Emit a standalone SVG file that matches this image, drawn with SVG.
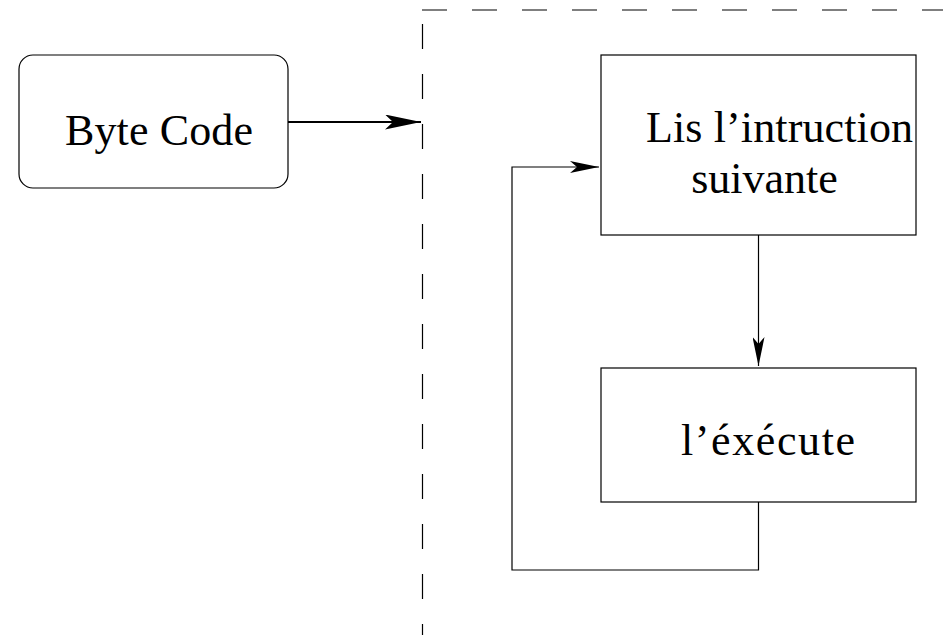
<svg xmlns="http://www.w3.org/2000/svg" width="943" height="635" viewBox="0 0 943 635">
<style>
.box{fill:#fff;stroke:#000;stroke-width:1.2}
.lbl{font-family:"Liberation Serif","Times New Roman",serif;font-size:44px;fill:#000}
.conn{fill:none;stroke:#000;stroke-width:1.2}
.dash{fill:none;stroke:#000;stroke-width:1.2;stroke-dasharray:25 25}
</style>
<defs>
<marker id="ahBig" markerUnits="userSpaceOnUse" viewBox="0 0 36 15" refX="36" refY="7.5" markerWidth="36" markerHeight="15" orient="auto">
<path d="M0,0 L36,7.5 L0,15 L8,7.5 Z" fill="#000"/>
</marker>
<marker id="ah" markerUnits="userSpaceOnUse" viewBox="0 0 29 12" refX="29" refY="6" markerWidth="29" markerHeight="12" orient="auto">
<path d="M0,0 L29,6 L0,12 L7,6 Z" fill="#000"/>
</marker>
</defs>
<g id="frame">
<line class="dash" x1="422.5" y1="24" x2="422.5" y2="635"/>
<line class="dash" x1="422" y1="10" x2="943" y2="10"/>
</g>
<g id="bytecode">
<rect class="box" x="19" y="55" width="269" height="133" rx="14" ry="14"/>
<text class="lbl" x="65" y="145" textLength="188">Byte Code</text>
</g>
<g id="lis">
<rect class="box" x="601" y="55" width="315" height="180"/>
<text class="lbl" x="646" y="142" textLength="267">Lis l’intruction</text>
<text class="lbl" x="764.5" y="193" text-anchor="middle">suivante</text>
</g>
<g id="execute">
<rect class="box" x="601" y="368" width="315" height="134"/>
<text class="lbl" x="681" y="455" textLength="174">l’éxécute</text>
</g>
<g id="connectors">
<line class="conn" x1="288" y1="122" x2="421" y2="122" style="stroke-width:2" marker-end="url(#ahBig)"/>
<line class="conn" x1="758.5" y1="235" x2="758.5" y2="366" marker-end="url(#ah)"/>
<polyline class="conn" points="758.5,502 758.5,570 512,570 512,167 599,167" marker-end="url(#ah)"/>
</g>
</svg>
